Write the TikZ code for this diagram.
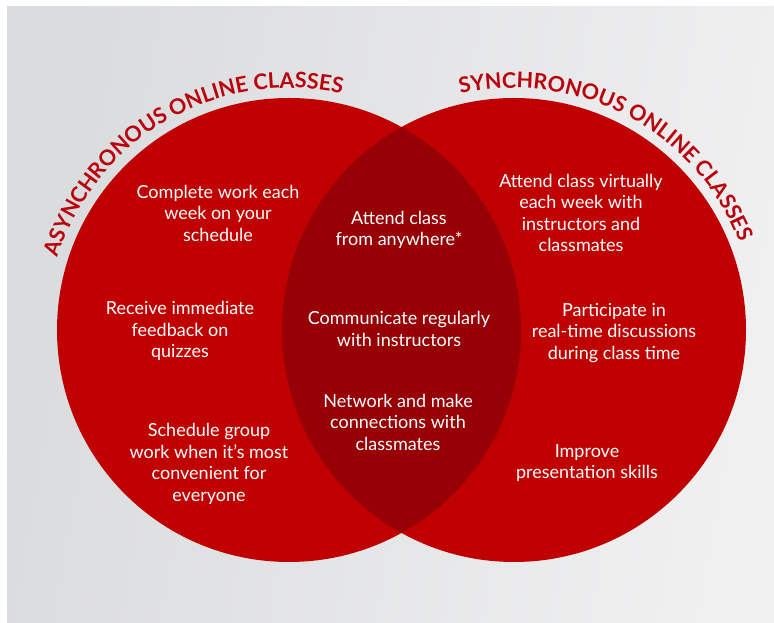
\documentclass[tikz,border=0pt]{standalone}
\usepackage{fontspec}
\setmainfont{Lato}
\usetikzlibrary{calc, decorations.text}
\definecolor{vennred}{HTML}{C00000}
\definecolor{lensred}{HTML}{970005}
\definecolor{titlered}{HTML}{BA000A}
\definecolor{bgleft}{HTML}{DADBDD}
\definecolor{bgright}{HTML}{F0F0F1}
\newcommand{\venntitlefont}{\fontsize{21.5}{24}\selectfont\bfseries}

\begin{document}
\begin{tikzpicture}[
  x=1pt, y=1pt,
  every node/.style={text=white, font=\fontsize{18}{21.5}\selectfont, align=center, inner sep=0pt},
  arctitle/.style={decorate, decoration={text along path, text align=center, text color=titlered, text={|\venntitlefont|#1}}},
]
\useasboundingbox (0,0) rectangle (774,623);

% Background
\fill[white] (0,0) rectangle (774,623);
\shade[left color=bgleft, right color=bgright, shading angle=80] (7,0) rectangle (774,616);

% Circles
\coordinate (asyncc) at (289,293);
\coordinate (syncc) at (514,293);
\fill[vennred] (asyncc) circle[radius=232];
\fill[vennred] (syncc) circle[radius=232];
\begin{scope}
  \clip (asyncc) circle[radius=232];
  \fill[lensred] (syncc) circle[radius=232];
\end{scope}

% Titles along the arcs
\path[arctitle={ASYNCHRONOUS ONLINE CLASSES}]
  ($(asyncc)+(175:242)$) arc[start angle=175, end angle=65, radius=242];
\path[arctitle={SYNCHRONOUS ONLINE CLASSES}]
  ($(syncc)+(117:242)$) arc[start angle=117, end angle=7, radius=242];

% Asynchronous only
\node (asyncwork) at (218,410) {Complete work each\\week on your\\schedule};
\node (asyncfeed) at (180,292) {Receive immediate\\feedback on\\quizzes};
\node (asyncgroup) at (209,159) {Schedule group\\work when it's most\\convenient for\\everyone};

% Both
\node (bothattend) at (399,393) {Attend class\\from anywhere*};
\node (bothtalk) at (399,294) {Communicate regularly\\with instructors};
\node (bothnet) at (398,201) {Network and make\\connections with\\classmates};

% Synchronous only
\node (syncattend) at (581,410) {Attend class virtually\\each week with\\instructors and\\classmates};
\node (syncpart) at (614,290) {Participate in\\real-time discussions\\during class time};
\node (syncskill) at (587,160) {Improve\\presentation skills};

\end{tikzpicture}
\end{document}
